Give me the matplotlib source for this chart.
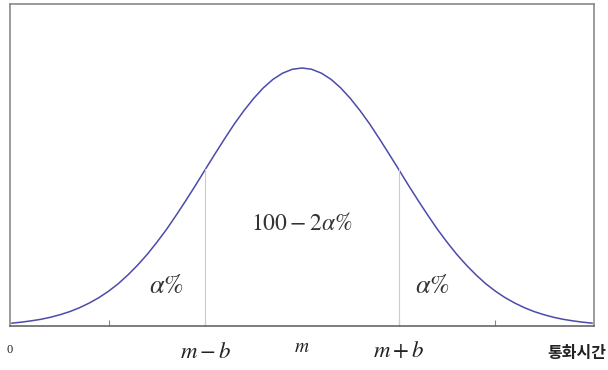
import matplotlib
matplotlib.use("Agg")
import matplotlib.pyplot as plt
import matplotlib.transforms as mtransforms

plt.rcParams['mathtext.fontset'] = 'stix'

# Curve (x in units of b from left edge, m = 3; height relative to peak)
x_vals = [0.0, 0.1, 0.2, 0.3, 0.4, 0.5, 0.6, 0.7, 0.8, 0.9,
          1.0, 1.1, 1.2, 1.3, 1.4, 1.5, 1.6, 1.7, 1.8, 1.9,
          2.0, 2.1, 2.2, 2.3, 2.4, 2.5, 2.6, 2.7, 2.8, 2.9,
          3.0,
          3.1, 3.2, 3.3, 3.4, 3.5, 3.6, 3.7, 3.8, 3.9, 4.0,
          4.1, 4.2, 4.3, 4.4, 4.5, 4.6, 4.7, 4.8, 4.9, 5.0,
          5.1, 5.2, 5.3, 5.4, 5.5, 5.6, 5.7, 5.8, 5.9, 6.0]
y_vals = [0.011, 0.015, 0.020, 0.026, 0.034, 0.044, 0.056, 0.071, 0.089, 0.110,
          0.135, 0.164, 0.198, 0.236, 0.278, 0.325, 0.375, 0.430, 0.487, 0.546,
          0.607, 0.667, 0.726, 0.783, 0.835, 0.882, 0.923, 0.956, 0.980, 0.995,
          1.000,
          0.995, 0.980, 0.956, 0.923, 0.882, 0.835, 0.783, 0.726, 0.667, 0.607,
          0.546, 0.487, 0.430, 0.375, 0.325, 0.278, 0.236, 0.198, 0.164, 0.135,
          0.110, 0.089, 0.071, 0.056, 0.044, 0.034, 0.026, 0.020, 0.015, 0.011]
tick_positions = [1, 2, 4, 5]
bound_x = [2.0, 4.0]
bound_y = [0.607, 0.607]
axis_labels = ['0', r'$m-b$', r'$m$', r'$m+b$']
axis_label_x = [-0.02, 2.0, 3.0, 4.0]
region_labels = [r'$\alpha\%$', r'$100-2\alpha\%$', r'$\alpha\%$']
region_x = [1.60, 3.0, 4.35]
region_y = [0.155, 0.40, 0.155]
region_sizes = [19, 17, 19]
x_title = '통화시간'

fig = plt.figure(figsize=(6.08, 3.70), dpi=100)
ax = fig.add_axes([10/608, 1-326/370, 584/608, 322/370])
ax.set_xlim(-0.02, 6.02)
ax.set_ylim(0, 1.248)

ax.plot(x_vals, y_vals, color='#4b4bab', lw=1.1)
for bx, by in zip(bound_x, bound_y):
    ax.plot([bx, bx], [0, by], color='#cccccc', lw=0.8)

ax.set_xticks(tick_positions)
ax.set_xticklabels([])
ax.set_yticks([])
ax.tick_params(axis='x', direction='in', length=4, width=0.8, color='#888888')
for s in ['left', 'top', 'right']:
    ax.spines[s].set_color('#8a8a8a')
    ax.spines[s].set_linewidth(1.2)
ax.spines['bottom'].set_color('#666666')
ax.spines['bottom'].set_linewidth(1.2)

trans = mtransforms.blended_transform_factory(ax.transData, ax.transAxes)
sizes = [9, 16.5, 14, 16.5]
ys = [-0.075, -0.082, -0.068, -0.078]
for lab, lx, fs, yy in zip(axis_labels, axis_label_x, sizes, ys):
    ax.text(lx, yy, lab, transform=trans, ha='center', va='center', fontsize=fs,
            color='#222222', family='Liberation Serif', clip_on=False)
for lab, rx, ry, fs in zip(region_labels, region_x, region_y, region_sizes):
    ax.text(rx, ry, lab, ha='center', va='center', fontsize=fs, color='#333333')

fig.text(577/608, 1-353/370, x_title, ha='center', va='center', fontsize=11.5,
         family=['Noto Sans CJK KR', 'DejaVu Sans'], fontweight='bold', color='#222222')

fig.savefig('out.png', dpi=100)
